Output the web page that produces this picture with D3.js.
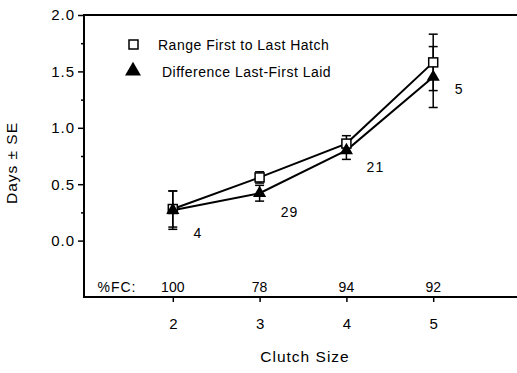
<!DOCTYPE html>
<html>
<head>
<meta charset="utf-8">
<script src="https://cdn.jsdelivr.net/npm/d3@7"></script>
<style>
  body { margin: 0; background: #fff; }
  text { font-family: "Liberation Sans", Arial, Helvetica, sans-serif; fill: #000; }
</style>
</head>
<body>
<div id="vis"></div>
<script>
// data
const clutch = [2, 3, 4, 5];
const rangeMean = [0.28, 0.56, 0.86, 1.58];
const rangeSE = [0.16, 0.05, 0.07, 0.25];
const diffMean = [0.27, 0.42, 0.80, 1.45];
const diffSE = [0.17, 0.07, 0.08, 0.27];
const sampleN = ['4', '29', '21', '5'];
const pctFC = ['100', '78', '94', '92'];
const yTicks = [0, 0.5, 1, 1.5, 2];
const yMinor = [0.25, 0.75, 1.25, 1.75];

const W = 517, H = 373;
const plotL = 84, plotR = 517, plotT = 15, plotB = 297;

const svg = d3.select('#vis').append('svg')
    .attr('width', W).attr('height', H);

const x = d3.scaleLinear().domain([1, 6]).range([86, 520]);
const y = d3.scaleLinear().domain([-0.5, 2]).range([plotB, plotT]);

// frame lines
svg.append('line').attr('x1', plotL).attr('x2', plotR).attr('y1', plotT).attr('y2', plotT)
    .attr('stroke', '#000').attr('stroke-width', 2);
svg.append('line').attr('x1', plotL).attr('x2', plotR).attr('y1', plotB).attr('y2', plotB)
    .attr('stroke', '#000').attr('stroke-width', 2);
svg.append('line').attr('x1', plotL).attr('x2', plotL).attr('y1', plotT - 1).attr('y2', plotB + 1)
    .attr('stroke', '#000').attr('stroke-width', 2);

// y axis
const yAxis = svg.append('g').attr('transform', `translate(${plotL},0)`)
    .call(d3.axisLeft(y).tickValues(yTicks).tickFormat(d3.format('.1f')).tickSize(6).tickPadding(3));
yAxis.select('.domain').remove();
yAxis.selectAll('.tick line').attr('stroke-width', 1.5);
yAxis.selectAll('text').style('font-size', '15px').style('letter-spacing', '1px')
    .style('font-family', '"Liberation Sans", Arial, sans-serif');

const yAxisMinor = svg.append('g').attr('transform', `translate(${plotL},0)`)
    .call(d3.axisLeft(y).tickValues(yMinor).tickFormat('').tickSize(3));
yAxisMinor.select('.domain').remove();
yAxisMinor.selectAll('.tick line').attr('stroke-width', 1.5);

// x axis
const xAxis = svg.append('g').attr('transform', `translate(0,${plotB})`)
    .call(d3.axisBottom(x).tickValues(clutch).tickFormat(d3.format('d')).tickSize(5).tickPadding(16));
xAxis.select('.domain').remove();
xAxis.selectAll('.tick line').attr('stroke-width', 1.5);
xAxis.selectAll('text').style('font-size', '15px')
    .style('font-family', '"Liberation Sans", Arial, sans-serif');

// axis titles
svg.append('text').attr('x', 305).attr('y', 362).attr('text-anchor', 'middle')
    .style('font-size', '15.5px').style('letter-spacing', '1px').text('Clutch Size');
svg.append('text').attr('transform', 'translate(17,163) rotate(-90)').attr('text-anchor', 'middle')
    .style('font-size', '15.5px').style('letter-spacing', '1px').text('Days \u00b1 SE');

// %FC row
svg.append('text').attr('x', 117).attr('y', 292).attr('text-anchor', 'middle')
    .style('font-size', '14px').style('letter-spacing', '1px').text('%FC:');
svg.selectAll('.fc').data(pctFC).join('text').attr('class', 'fc')
    .attr('x', (d, i) => x(clutch[i])).attr('y', 292).attr('text-anchor', 'middle')
    .style('font-size', '14px').text(d => d);

// sample sizes
const nOffset = [[25, 28], [30, 24], [29, 22], [26, 17]];
svg.selectAll('.n').data(sampleN).join('text').attr('class', 'n')
    .attr('x', (d, i) => x(clutch[i]) + nOffset[i][0])
    .attr('y', (d, i) => y(diffMean[i]) + nOffset[i][1])
    .attr('text-anchor', 'middle').style('font-size', '14px').style('letter-spacing', '1px')
    .text(d => d);

const rangeData = clutch.map((c, i) => ({x: c, y: rangeMean[i], se: rangeSE[i]}));
const diffData = clutch.map((c, i) => ({x: c, y: diffMean[i], se: diffSE[i]}));

const line = d3.line().x(d => x(d.x)).y(d => y(d.y));

function errorBars(data) {
    const g = svg.append('g');
    data.forEach(d => {
        g.append('line').attr('x1', x(d.x)).attr('x2', x(d.x))
            .attr('y1', y(d.y - d.se)).attr('y2', y(d.y + d.se))
            .attr('stroke', '#000').attr('stroke-width', 1.5);
        [d.y - d.se, d.y + d.se].forEach(v => {
            g.append('line').attr('x1', x(d.x) - 4.5).attr('x2', x(d.x) + 4.5)
                .attr('y1', y(v)).attr('y2', y(v))
                .attr('stroke', '#000').attr('stroke-width', 1.5);
        });
    });
}

errorBars(rangeData);
errorBars(diffData);

svg.append('path').datum(rangeData).attr('d', line)
    .attr('fill', 'none').attr('stroke', '#000').attr('stroke-width', 2);
svg.append('path').datum(diffData).attr('d', line)
    .attr('fill', 'none').attr('stroke', '#000').attr('stroke-width', 2);

// markers
svg.selectAll('.sq').data(rangeData).join('rect').attr('class', 'sq')
    .attr('x', d => x(d.x) - 4.5).attr('y', d => y(d.y) - 4.5)
    .attr('width', 9).attr('height', 9)
    .attr('fill', '#fff').attr('stroke', '#000').attr('stroke-width', 1.5);

const tri = d3.symbol().type(d3.symbolTriangle).size(75);
svg.selectAll('.tri').data(diffData).join('path').attr('class', 'tri')
    .attr('transform', d => `translate(${x(d.x)},${y(d.y)})`)
    .attr('d', tri).attr('fill', '#000');

// legend
svg.append('rect').attr('x', 129).attr('y', 40).attr('width', 9).attr('height', 9)
    .attr('fill', '#fff').attr('stroke', '#000').attr('stroke-width', 1.5);
svg.append('text').attr('x', 158).attr('y', 50).style('font-size', '14px').style('letter-spacing', '0.5px')
    .text('Range First to Last Hatch');
svg.append('path').attr('transform', 'translate(133,71)')
    .attr('d', d3.symbol().type(d3.symbolTriangle).size(110)).attr('fill', '#000');
svg.append('text').attr('x', 162).attr('y', 77).style('font-size', '14px').style('letter-spacing', '0.5px')
    .text('Difference Last-First Laid');
</script>
</body>
</html>
